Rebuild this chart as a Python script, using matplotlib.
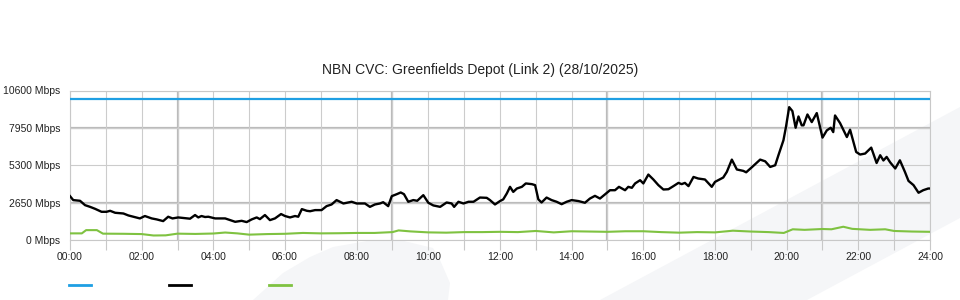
import numpy as np
import matplotlib
matplotlib.use("Agg")
import matplotlib.pyplot as plt
from matplotlib.lines import Line2D
from matplotlib.patches import Polygon

plt.rcParams['font.family'] = ['Liberation Sans', 'DejaVu Sans']

# Data (hours since midnight, Mbps)
capacity = 10000

used_t = [0.00, 0.09, 0.28, 0.42, 0.56, 0.70, 0.88, 1.02, 1.12, 1.26, 1.49, 1.63, 1.77, 1.95,
          2.09, 2.28, 2.42, 2.60, 2.74, 2.86, 3.02, 3.21, 3.35, 3.49, 3.58, 3.67, 3.77, 3.86,
          4.05, 4.33, 4.47, 4.61, 4.79, 4.93, 5.07, 5.21, 5.30, 5.44, 5.58, 5.72, 5.89, 6.00,
          6.14, 6.28, 6.37, 6.47, 6.61, 6.70, 6.84, 7.02, 7.16, 7.30, 7.44, 7.63, 7.86, 8.00,
          8.23, 8.37, 8.51, 8.65, 8.74, 8.88, 8.98, 9.12, 9.23, 9.32, 9.44, 9.58, 9.69, 9.86,
          10.00, 10.14, 10.33, 10.51, 10.65, 10.72, 10.84, 10.98, 11.12, 11.26, 11.44, 11.63,
          11.72, 11.86, 12.00, 12.09, 12.19, 12.28, 12.37, 12.47, 12.61, 12.72, 12.89, 12.98,
          13.07, 13.16, 13.30, 13.44, 13.58, 13.72, 13.86, 14.00, 14.19, 14.37, 14.51, 14.65,
          14.79, 14.93, 15.07, 15.21, 15.32, 15.49, 15.58, 15.68, 15.77, 15.91, 16.00, 16.14,
          16.28, 16.42, 16.56, 16.70, 16.84, 16.98, 17.07, 17.16, 17.26, 17.40, 17.53, 17.72,
          17.91, 18.00, 18.23, 18.33, 18.47, 18.61, 18.79, 18.87, 19.02, 19.26, 19.40, 19.54,
          19.68, 19.77, 19.91, 19.98, 20.07, 20.16, 20.25, 20.33, 20.42, 20.47, 20.58, 20.70,
          20.84, 21.00, 21.12, 21.23, 21.30, 21.35, 21.49, 21.68, 21.77, 21.94, 22.05, 22.19,
          22.36, 22.51, 22.61, 22.70, 22.79, 22.89, 23.03, 23.16, 23.30, 23.40, 23.54, 23.68,
          23.81, 23.95, 24.00]
used_v = [3110, 2830, 2780, 2470, 2350, 2210, 2000, 2000, 2070, 1930, 1880, 1740, 1650, 1530,
          1700, 1530, 1460, 1340, 1650, 1530, 1600, 1550, 1510, 1770, 1600, 1700, 1630, 1650,
          1530, 1530, 1410, 1290, 1360, 1270, 1460, 1600, 1480, 1770, 1410, 1530, 1840, 1700,
          1600, 1700, 1650, 2190, 2070, 2040, 2120, 2120, 2400, 2520, 2830, 2590, 2710, 2590,
          2590, 2350, 2520, 2590, 2680, 2400, 3110, 3250, 3370, 3250, 2710, 2830, 2780, 3180,
          2640, 2450, 2350, 2660, 2590, 2350, 2710, 2590, 2710, 2710, 3010, 2990,
          2830, 2520, 2760, 2880, 3300, 3770, 3410, 3650, 3770, 4010, 3960, 3890,
          2880, 2660, 3010, 2830, 2710, 2540, 2710, 2830, 2760, 2640, 2940, 3130,
          2940, 3230, 3530, 3530, 3770, 3530, 3770, 3700, 4010, 4240, 4010, 4640,
          4290, 3890, 3580, 3600, 3820, 4050, 3960, 4050, 3820, 4470, 4360, 4290,
          3770, 4120, 4430, 4830, 5700, 5000, 4900, 4800, 5140, 5700, 5580, 5180,
          5300, 6010, 7070, 8010, 9420, 9140, 7960, 8760, 8130, 8130, 8900, 8360,
          9000, 7260, 7770, 7960, 7650, 8830, 8290, 7300, 7820, 6240, 6060, 6130,
          6550, 5460, 6010, 5640, 5890, 5500, 5070, 5650, 4830, 4190, 3890, 3350,
          3530, 3650, 3650]

other_t = [0.0, 0.33, 0.45, 0.75, 0.92, 1.5, 2.0, 2.33, 2.67, 3.0, 3.5, 4.0, 4.33, 4.67,
           5.0, 5.5, 6.0, 6.5, 7.0, 7.5, 8.0, 8.5, 9.0, 9.17, 9.5, 10.0, 10.5, 11.0, 11.5,
           12.0, 12.5, 13.0, 13.5, 14.0, 14.5, 15.0, 15.5, 16.0, 16.5, 17.0, 17.5, 18.0,
           18.5, 19.0, 19.5, 19.92, 20.17, 20.5, 21.0, 21.25, 21.58, 21.83, 22.33, 22.75,
           23.0, 23.5, 24.0]
other_v = [470, 470, 700, 700, 450, 440, 420, 320, 330, 450, 430, 460, 530, 470,
           380, 420, 440, 500, 470, 480, 500, 500, 560, 680, 610, 540, 520, 560, 560,
           580, 560, 640, 540, 620, 600, 580, 620, 620, 560, 520, 560, 540,
           660, 600, 560, 500, 760, 720, 780, 760, 940, 790, 720, 760,
           640, 600, 580]

yticks = [0, 2650, 5300, 7950, 10600]
xticks = list(range(0, 25))
xlabels = ["%02d:00" % h if h % 2 == 0 else "" for h in xticks]

fig = plt.figure(figsize=(9.6, 3.0), dpi=100)

# background watermark shapes (pixel coords)
def px(pts):
    return [(x / 960, 1 - y / 300) for x, y in pts]

band = [(600, 300), (960, 107), (960, 218), (807, 300)]
blob = [(253, 300), (283, 273), (310, 257), (333, 247), (367, 241), (400, 240),
        (433, 248), (440, 260), (450, 283), (448, 300)]
for pts in (band, blob):
    fig.patches.append(Polygon(px(pts), closed=True, transform=fig.transFigure,
                               facecolor="#f5f6f8", edgecolor="none", zorder=-5))

ax = fig.add_axes([70 / 960, 60 / 300, 860 / 960, 149.5 / 300])
ax.set_facecolor("none")

ax.set_xlim(0, 24)
ax.set_ylim(0, 10600)
ax.set_xticks(xticks)
ax.set_xticklabels(xlabels)
ax.set_yticks(yticks)
ax.set_yticklabels(["%d Mbps" % v for v in yticks])
ax.tick_params(axis="x", length=7, width=0.8, color="#c8c8c8", labelsize=7.5,
               labelcolor="#222222", pad=2)
ax.tick_params(axis="y", length=0, labelsize=7.5, labelcolor="#222222", pad=7)

ax.grid(True, color="#cccccc", linewidth=0.8, zorder=0)
for h in [3, 9, 15, 21]:
    ax.axvline(h, color="#bbbbbb", linewidth=1.6, zorder=0.5)
for v in [2650, 7950]:
    ax.axhline(v, color="#bbbbbb", linewidth=1.6, zorder=0.5)
for s in ax.spines.values():
    s.set_color("#c8c8c8")
    s.set_linewidth(0.8)

ax.axhline(capacity, color="#1e9fe3", linewidth=1.6, zorder=3)
ax.plot(used_t, used_v, color="#000000", linewidth=1.7, zorder=4)
ax.plot(other_t, other_v, color="#7fc241", linewidth=1.5, zorder=3)

fig.text(0.5, 1 - 70 / 300, "NBN CVC: Greenfields Depot (Link 2) (28/10/2025)",
         ha="center", va="center", fontsize=10, color="#222222")

# legend swatches (no labels)
for x0, c in [(69, "#1e9fe3"), (169, "#000000"), (269, "#7fc241")]:
    fig.add_artist(Line2D([x0 / 960, (x0 + 22) / 960], [1 - 285 / 300] * 2,
                          transform=fig.transFigure, color=c, linewidth=2))

fig.savefig("out.png", dpi=100)
